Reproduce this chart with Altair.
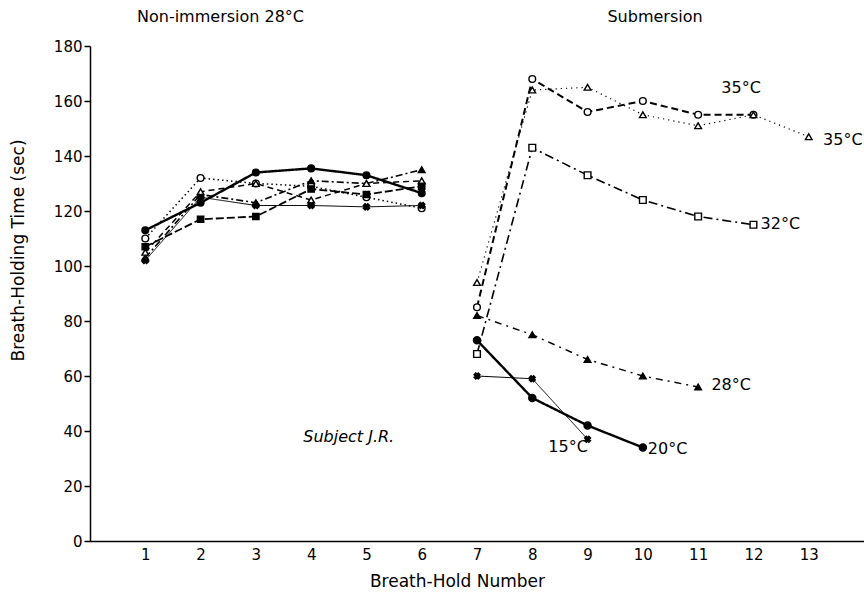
import altair as alt
import pandas as pd

# ---------------- data ----------------
x_left = [1, 2, 3, 4, 5, 6]
ni_filled_circle = [113, 123, 134, 135.5, 133, 126.5]
ni_open_circle = [110, 132, 130, 129, 125, 121]
ni_filled_tri = [103, 126, 123, 131, 130, 135]
ni_open_tri = [105, 127, 130, 124, 130, 131]
ni_square = [107, 117, 118, 128, 126, 129]
ni_cross = [102, 125, 122, 122, 121.5, 122]

x_35c = [7, 8, 9, 10, 11, 12]
sub_35_circle = [85, 168, 156, 160, 155, 155]
x_35t = [7, 8, 9, 10, 11, 12, 13]
sub_35_tri = [94, 164, 165, 155, 151, 155, 147]
x_32 = [7, 8, 9, 10, 11, 12]
sub_32_square = [68, 143, 133, 124, 118, 115]
x_28 = [7, 8, 9, 10, 11]
sub_28_tri = [82, 75, 66, 60, 56]
x_20 = [7, 8, 9, 10]
sub_20_circle = [73, 52, 42, 34]
x_15 = [7, 8, 9]
sub_15_cross = [60, 59, 37]

label_text = ["35°C", "35°C", "32°C", "28°C", "20°C", "15°C"]
label_x = [11.42, 13.26, 12.13, 11.24, 10.09, 8.29]
label_y = [164.7, 145.8, 115.3, 56.7, 33.5, 34.2]

subject_text = ["Subject J.R."]
subject_x = [4.68]
subject_y = [37.8]

y_ticks = [0, 20, 40, 60, 80, 100, 120, 140, 160, 180]
x_ticks = list(range(1, 14))

FONT = "DejaVu Sans"

# ---------------- scales / axes ----------------
X = alt.X(
    "x:Q",
    scale=alt.Scale(domain=[0, 14], nice=False, zero=False),
    axis=alt.Axis(
        values=x_ticks, tickSize=0, grid=False, domainColor="black",
        domainWidth=1.5, labelFontSize=15, labelPadding=6, labelColor="black",
        labelFont=FONT, title="Breath-Hold Number", titleFont=FONT,
        titleFontSize=17, titleFontWeight="normal", titleColor="black",
        titleX=367, titleY=40, titleAlign="center", titleBaseline="middle",
    ),
)
Y = alt.Y(
    "y:Q",
    scale=alt.Scale(domain=[0, 180], nice=False),
    axis=alt.Axis(
        values=y_ticks, tickSize=6, tickColor="black", tickWidth=1.5, grid=False,
        domainColor="black", domainWidth=1.5, labelFontSize=15, labelPadding=2,
        labelColor="black", labelFont=FONT, title="Breath-Holding Time (sec)",
        titleFont=FONT, titleFontSize=17, titleFontWeight="normal",
        titleColor="black", titleX=-72, titleY=204, titleAngle=-90,
        titleAlign="center", titleBaseline="middle",
    ),
)

BLACK_FILL = "black"
WHITE_FILL = "white"

series = [
    (x_left, ni_filled_circle, "circle", BLACK_FILL, [1, 0], 2.4, 45, 0),
    (x_left, ni_open_circle, "circle", WHITE_FILL, [1.5, 3], 1.5, 45, 0),
    (x_left, ni_filled_tri, "triangle-up", BLACK_FILL, [7, 3, 2, 3], 1.6, 45, 0),
    (x_left, ni_open_tri, "triangle-up", WHITE_FILL, [6, 4], 1.5, 45, 0),
    (x_left, ni_square, "square", BLACK_FILL, [8, 3], 1.8, 40, 0),
    (x_left, ni_cross, "cross", BLACK_FILL, [1, 0], 1.0, 40, 45),
    (x_35c, sub_35_circle, "circle", WHITE_FILL, [7, 4], 2.0, 45, 0),
    (x_35t, sub_35_tri, "triangle-up", WHITE_FILL, [1.2, 4], 1.2, 45, 0),
    (x_32, sub_32_square, "square", WHITE_FILL, [9, 4, 2, 4], 1.6, 45, 0),
    (x_28, sub_28_tri, "triangle-up", BLACK_FILL, [7, 5, 2, 5], 1.4, 45, 0),
    (x_20, sub_20_circle, "circle", BLACK_FILL, [1, 0], 2.4, 50, 0),
    (x_15, sub_15_cross, "cross", BLACK_FILL, [1, 0], 1.0, 35, 45),
]

layers = []
for xs, ys, shape, fill, dash, sw, size, ang in series:
    df = pd.DataFrame({"x": xs, "y": ys})
    base = alt.Chart(df)
    line = base.mark_line(color="black", strokeWidth=sw, strokeDash=dash).encode(x=X, y=Y)
    pts = base.mark_point(
        shape=shape, filled=True, fill=fill, stroke="black", strokeWidth=1.4,
        size=size, opacity=1, angle=ang,
    ).encode(x=X, y=Y)
    layers += [line, pts]

labels_df = pd.DataFrame({"x": label_x, "y": label_y, "t": label_text})
labels = alt.Chart(labels_df).mark_text(
    align="left", baseline="middle", font=FONT, fontSize=16, color="black"
).encode(x=X, y=Y, text="t:N")

subj_df = pd.DataFrame({"x": subject_x, "y": subject_y, "t": subject_text})
subj = alt.Chart(subj_df).mark_text(
    align="center", baseline="middle", font=FONT, fontSize=16, fontStyle="italic",
    color="black",
).encode(x=X, y=Y, text="t:N")

head_df = pd.DataFrame({"t": ["Non-immersion 28°C"]})
head1 = alt.Chart(head_df).mark_text(
    align="left", baseline="middle", font=FONT, fontSize=16, color="black"
).encode(x=alt.value(47), y=alt.value(-29), text="t:N")
head2_df = pd.DataFrame({"t": ["Submersion"]})
head2 = alt.Chart(head2_df).mark_text(
    align="center", baseline="middle", font=FONT, fontSize=16, color="black"
).encode(x=alt.value(565), y=alt.value(-29), text="t:N")

chart = alt.layer(*layers, labels, subj, head1, head2).properties(
    width=774,
    height=495,
    autosize=alt.AutoSizeParams(type="none"),
    padding={"left": 90, "top": 46, "right": 0, "bottom": 52},
    background="white",
).configure_view(stroke=None)

chart.save("out.html", embed_options={"renderer": "svg", "actions": False})
